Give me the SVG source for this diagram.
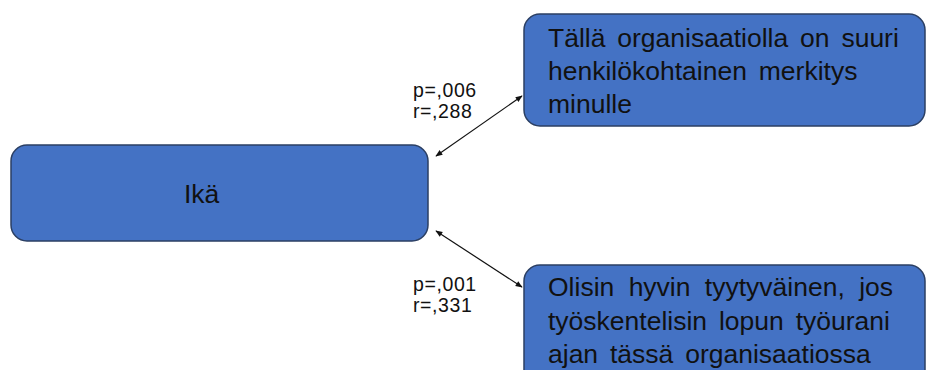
<svg xmlns="http://www.w3.org/2000/svg" width="930" height="370" viewBox="0 0 930 370">
  <style>
    .box { fill: #4472C4; stroke: #2b3f63; stroke-width: 1.5; }
    .txt { font-family: "Liberation Sans", Arial, sans-serif; font-size: 26.5px; fill: #111; word-spacing: 4.5px; }
    .lbl { font-family: "Liberation Sans", Arial, sans-serif; font-size: 19.5px; fill: #111; letter-spacing: 0.6px; }
    .conn { stroke: #111; stroke-width: 1.2; fill: none; marker-start: url(#ah); marker-end: url(#ah); }
  </style>
  <defs>
    <marker id="ah" viewBox="0 0 10 10" refX="9" refY="5" markerWidth="8" markerHeight="7" orient="auto-start-reverse" markerUnits="userSpaceOnUse">
      <path d="M0,1 L10,5 L0,9 z" fill="#111"/>
    </marker>
  </defs>

  <g id="connectors">
    <line class="conn" x1="436" y1="156" x2="522" y2="96"/>
    <line class="conn" x1="436" y1="231" x2="522" y2="287"/>
    <text class="lbl" x="413" y="97">p=,006</text>
    <text class="lbl" x="413" y="118">r=,288</text>
    <text class="lbl" x="413" y="291">p=,001</text>
    <text class="lbl" x="413" y="312">r=,331</text>
  </g>

  <g id="node-ika">
    <rect class="box" x="11" y="145" width="417" height="96" rx="16"/>
    <text class="txt" x="184" y="203">Ikä</text>
  </g>

  <g id="node-merkitys">
    <rect class="box" x="524" y="14" width="401" height="112" rx="16"/>
    <text class="txt" x="548" y="47">Tällä organisaatiolla on suuri</text>
    <text class="txt" x="548" y="80">henkilökohtainen merkitys</text>
    <text class="txt" x="548" y="113">minulle</text>
  </g>

  <g id="node-tyytyvainen">
    <rect class="box" x="524" y="265" width="401" height="130" rx="16"/>
    <text class="txt" x="548" y="296" style="word-spacing:7px">Olisin hyvin tyytyväinen, jos</text>
    <text class="txt" x="548" y="330">työskentelisin lopun työurani</text>
    <text class="txt" x="548" y="363">ajan tässä organisaatiossa</text>
  </g>
</svg>
